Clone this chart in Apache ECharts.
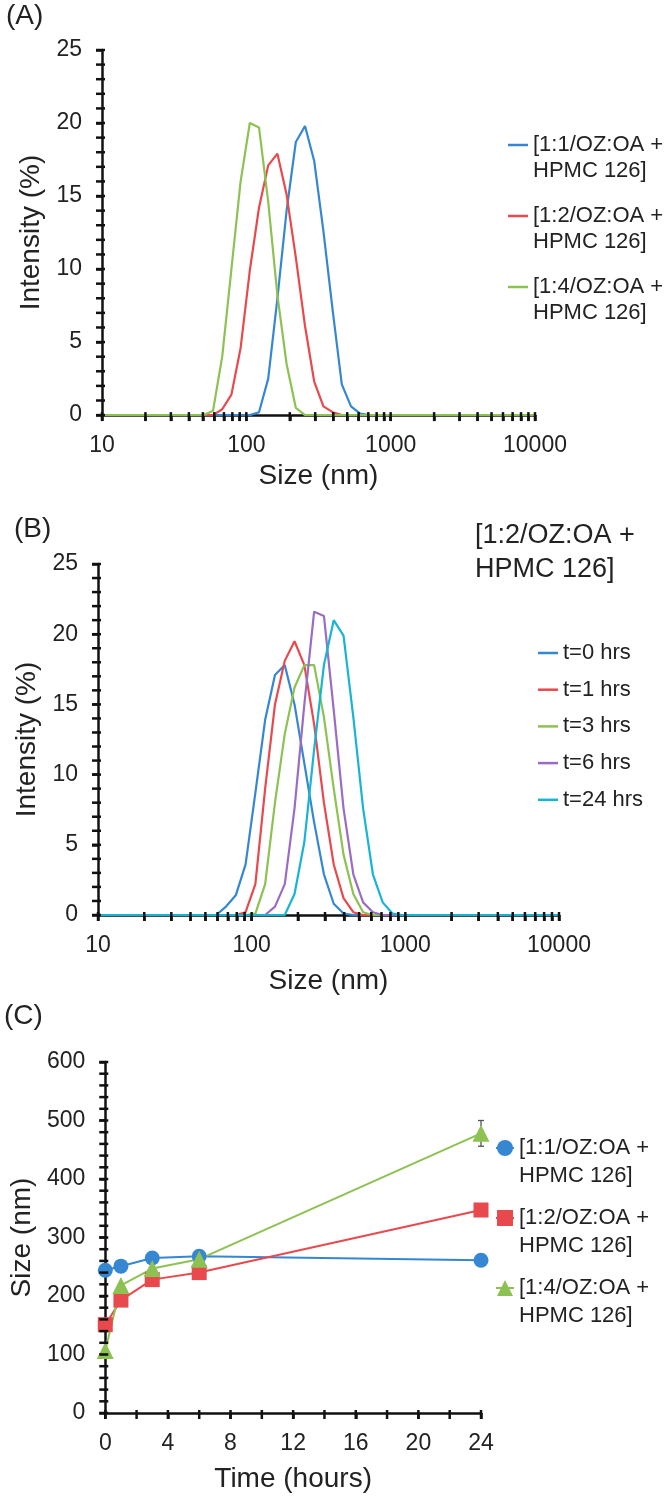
<!DOCTYPE html>
<html>
<head>
<meta charset="utf-8">
<script src="https://cdn.jsdelivr.net/npm/echarts@6.0.0/dist/echarts.min.js"></script>
<style>
  body { margin: 0; background: #fff; }
  .panel { position: absolute; left: 0; width: 670px; }
</style>
</head>
<body>
<div id="chartA" class="panel" style="top:0;height:495px"></div>
<div id="chartB" class="panel" style="top:495px;height:505px"></div>
<div id="chartC" class="panel" style="top:1000px;height:500px"></div>
<script>
var FONT = '"Liberation Sans", Arial, sans-serif'
var TXT = '#222'

// DLS size classes (nm)
var sizes = [10.10, 11.70, 13.54, 15.69, 18.17, 21.04, 24.36, 28.21, 32.67, 37.84, 43.82, 50.75,
  58.77, 68.06, 78.82, 91.28, 105.7, 122.4, 141.8, 164.2, 190.1, 220.2, 255.0, 295.3,
  342.0, 396.1, 458.7, 531.2, 615.1, 712.4, 825.0, 955.4, 1106, 1281, 1484, 1718,
  1990, 2305, 2669, 3091, 3580, 4145, 4801, 5560, 6439, 7456, 8635, 10000]
var sizeTicks = [10, 20, 30, 40, 50, 60, 70, 80, 90, 100, 200, 300, 400, 500, 600, 700, 800, 900,
  1000, 2000, 3000, 4000, 5000, 6000, 7000, 8000, 9000, 10000]
var sizeLabels = [10, 100, 1000, 10000]
var intensityTicks = [0, 1, 2, 3, 4, 5, 6, 7, 8, 9, 10, 11, 12, 13, 14, 15, 16, 17, 18, 19, 20, 21, 22, 23, 24, 25]
var timeTicks = [0, 2, 4, 6, 8, 10, 12, 14, 16, 18, 20, 22, 24]
var sizeNmTicks = [0, 20, 40, 60, 80, 100, 120, 140, 160, 180, 200, 220, 240, 260, 280, 300,
  320, 340, 360, 380, 400, 420, 440, 460, 480, 500, 520, 540, 560, 580, 600]

// (A) intensity (%) per formulation
var namesA = ['[1:1/OZ:OA +\nHPMC 126]', '[1:2/OZ:OA +\nHPMC 126]', '[1:4/OZ:OA +\nHPMC 126]']
var intA11 = [0, 0, 0, 0, 0, 0, 0, 0, 0, 0, 0, 0,
  0, 0, 0, 0, 0, 0.2, 2.5, 8.0, 14.0, 18.7, 19.8, 17.4,
  12.6, 7.2, 2.1, 0.6, 0.1, 0, 0, 0, 0, 0, 0, 0,
  0, 0, 0, 0, 0, 0, 0, 0, 0, 0, 0, 0]
var intA12 = [0, 0, 0, 0, 0, 0, 0, 0, 0, 0, 0, 0,
  0, 0.4, 1.4, 4.6, 9.9, 14.2, 17.1, 17.9, 15.1, 10.8, 6.1, 2.3,
  0.6, 0.2, 0, 0, 0, 0, 0, 0, 0, 0, 0, 0,
  0, 0, 0, 0, 0, 0, 0, 0, 0, 0, 0, 0]
var intA14 = [0, 0, 0, 0, 0, 0, 0, 0, 0, 0, 0, 0,
  0.3, 4.0, 10.0, 16.0, 20.0, 19.7, 14.6, 8.2, 3.5, 0.5, 0, 0,
  0, 0, 0, 0, 0, 0, 0, 0, 0, 0, 0, 0,
  0, 0, 0, 0, 0, 0, 0, 0, 0, 0, 0, 0]

// (B) 1:2 formulation over time
var namesB = ['t=0 hrs', 't=1 hrs', 't=3 hrs', 't=6 hrs', 't=24 hrs']
var intB0 = [0, 0, 0, 0, 0, 0, 0, 0, 0, 0, 0, 0,
  0, 0.6, 1.4, 3.6, 8.7, 13.9, 17.1, 17.8, 15.0, 10.8, 6.6, 2.9,
  0.8, 0.1, 0, 0, 0, 0, 0, 0, 0, 0, 0, 0,
  0, 0, 0, 0, 0, 0, 0, 0, 0, 0, 0, 0]
var intB1 = [0, 0, 0, 0, 0, 0, 0, 0, 0, 0, 0, 0,
  0, 0, 0, 0.2, 2.2, 9.0, 15.0, 18.1, 19.5, 17.8, 13.6, 8.0,
  3.6, 1.2, 0.2, 0, 0, 0, 0, 0, 0, 0, 0, 0,
  0, 0, 0, 0, 0, 0, 0, 0, 0, 0, 0, 0]
var intB3 = [0, 0, 0, 0, 0, 0, 0, 0, 0, 0, 0, 0,
  0, 0, 0, 0, 0.1, 2.2, 8.0, 12.9, 16.2, 17.8, 17.8, 14.1,
  9.0, 4.3, 1.5, 0.2, 0, 0, 0, 0, 0, 0, 0, 0,
  0, 0, 0, 0, 0, 0, 0, 0, 0, 0, 0, 0]
var intB6 = [0, 0, 0, 0, 0, 0, 0, 0, 0, 0, 0, 0,
  0, 0, 0, 0, 0, 0, 0.6, 2.2, 7.6, 15.0, 21.6, 21.3,
  14.6, 7.6, 2.9, 0.9, 0.2, 0, 0, 0, 0, 0, 0, 0,
  0, 0, 0, 0, 0, 0, 0, 0, 0, 0, 0, 0]
var intB24 = [0, 0, 0, 0, 0, 0, 0, 0, 0, 0, 0, 0,
  0, 0, 0, 0, 0, 0, 0, 0, 1.5, 5.2, 11.8, 17.8,
  21.0, 19.9, 14.1, 7.6, 2.9, 0.9, 0.1, 0, 0, 0, 0, 0,
  0, 0, 0, 0, 0, 0, 0, 0, 0, 0, 0, 0]

// (C) mean size vs time
var timeHours = [0, 1, 3, 6, 24]
var size11 = [244, 251, 265, 268, 261]
var size12 = [151, 193, 228, 240, 347]
var size14 = [107, 218, 247, 263, 478]
var err14 = [0, 0, 0, 0, 22]

var BLUE = '#3587d2', RED = '#e8494d', GREEN = '#8dc252', PURPLE = '#9a6dc2', CYAN = '#1ab4d3'
var AXIS = '#111'
var TICK_OUT = 6
var TICK_IN = 3

function curve(name, color, vals) {
  return {
    name: name, type: 'line', symbol: 'none', color: color,
    lineStyle: { width: 2.2, color: color },
    data: sizes.map(function (s, i) { return [s, vals[i]] })
  }
}

// cross-style tick marks placed through the axis scales
function tickMarks(dir, pairs) {
  return {
    type: 'custom', silent: true, z: 5, clip: false,
    renderItem: function (params, api) {
      var p = api.coord([api.value(0), api.value(1)])
      var shape = dir === 'x'
        ? { x1: p[0], y1: p[1] - TICK_IN, x2: p[0], y2: p[1] + TICK_OUT }
        : { x1: p[0] - TICK_OUT, y1: p[1], x2: p[0] + TICK_IN, y2: p[1] }
      return { type: 'line', shape: shape, style: { stroke: AXIS, lineWidth: 2.5 } }
    },
    data: pairs
  }
}

function axisBase(name, gap) {
  return {
    name: name,
    nameLocation: 'middle',
    nameGap: gap,
    nameTextStyle: { fontFamily: FONT, fontSize: 28, color: TXT },
    axisLine: { show: true, lineStyle: { color: AXIS, width: 2.5 } },
    axisTick: { show: true, length: TICK_OUT, lineStyle: { color: AXIS, width: 2.5 } },
    axisLabel: { show: true, fontFamily: FONT, fontSize: 23, color: TXT, margin: 19 },
    splitLine: { show: false }
  }
}

function logX(gap) {
  var ax = axisBase('Size (nm)', gap)
  ax.type = 'log'
  ax.logBase = 10
  ax.min = 10
  ax.max = 10000
  ax.axisTick.customValues = sizeTicks
  ax.axisLabel.customValues = sizeLabels
  ax.axisLabel.formatter = function (v) { return String(Math.round(v)) }
  return ax
}

function valY(name, gap, max, interval) {
  var ax = axisBase(name, gap)
  ax.type = 'value'
  ax.min = 0
  ax.max = max
  ax.interval = interval
  ax.axisLabel.margin = 20
  return ax
}

function panelLabel(text, left, top) {
  return {
    type: 'text', left: left, top: top,
    style: { text: text, fontFamily: FONT, fontSize: 28, fill: TXT }
  }
}

// two-line legend entries: a leading blank line keeps the first text line level with the icon
function firstLineOnIcon(name) { return '\n' + name }

var logXTicks = sizeTicks.map(function (v) { return [v, 0] })
var intensityYTicks = intensityTicks.map(function (v) { return [10, v] })

// ---- (A)
var chartA = echarts.init(document.getElementById('chartA'))
chartA.setOption({
  animation: false,
  grid: { left: 102, top: 50, width: 433, height: 371 },
  xAxis: logX(42),
  yAxis: valY('Intensity (%)', 52, 25, 5),
  legend: {
    orient: 'vertical', left: 508, top: 106, padding: 0,
    icon: 'rect', itemWidth: 20, itemHeight: 2.5, itemGap: -7,
    formatter: firstLineOnIcon,
    textStyle: { fontFamily: FONT, fontSize: 22, color: TXT, lineHeight: 26 },
    data: namesA
  },
  graphic: [panelLabel('(A)', 6, 2)],
  series: [
    curve(namesA[0], BLUE, intA11),
    curve(namesA[1], RED, intA12),
    curve(namesA[2], GREEN, intA14),
    tickMarks('x', logXTicks),
    tickMarks('y', intensityYTicks)
  ]
})

// ---- (B)
var chartB = echarts.init(document.getElementById('chartB'))
chartB.setOption({
  animation: false,
  grid: { left: 98, top: 69, width: 461, height: 358 },
  xAxis: logX(52),
  yAxis: valY('Intensity (%)', 53, 25, 5),
  legend: {
    orient: 'vertical', left: 538, top: 145, padding: 0,
    icon: 'rect', itemWidth: 20, itemHeight: 2.5, itemGap: 10.7,
    textStyle: { fontFamily: FONT, fontSize: 22, color: TXT, lineHeight: 26 },
    data: namesB
  },
  graphic: [
    panelLabel('(B)', 14, 20),
    {
      type: 'text', left: 475, top: 24,
      style: { text: '[1:2/OZ:OA +\nHPMC 126]', fontFamily: FONT, fontSize: 27, lineHeight: 34, fill: TXT }
    }
  ],
  series: [
    curve(namesB[0], BLUE, intB0),
    curve(namesB[1], RED, intB1),
    curve(namesB[2], GREEN, intB3),
    curve(namesB[3], PURPLE, intB6),
    curve(namesB[4], CYAN, intB24),
    tickMarks('x', logXTicks),
    tickMarks('y', intensityYTicks)
  ]
})

// ---- (C)
function point(name, color, symbol, symSize, vals) {
  return {
    name: name, type: 'line', color: color,
    symbol: symbol, symbolSize: symSize, showSymbol: true,
    lineStyle: { width: 2, color: color },
    itemStyle: { color: color },
    data: timeHours.map(function (t, i) { return [t, vals[i]] })
  }
}

var chartC = echarts.init(document.getElementById('chartC'))
var xC = axisBase('Time (hours)', 52)
xC.type = 'value'
xC.min = 0
xC.max = 24
xC.interval = 4
var yC = valY('Size (nm)', 66, 600, 100)

chartC.setOption({
  animation: false,
  grid: { left: 100, top: 62, width: 381, height: 351 },
  xAxis: xC,
  yAxis: yC,
  legend: {
    orient: 'vertical', left: 495, top: 106, padding: 0,
    itemWidth: 18, itemHeight: 20, itemGap: -14,
    formatter: firstLineOnIcon,
    textStyle: { fontFamily: FONT, fontSize: 22, color: TXT, lineHeight: 28 },
    data: namesA
  },
  graphic: [panelLabel('(C)', 4, 2)],
  series: [
    {
      type: 'custom', name: 'error', silent: true, z: 1,
      renderItem: function (params, api) {
        var lo = api.coord([api.value(0), api.value(1)])
        var hi = api.coord([api.value(0), api.value(2)])
        var st = { stroke: '#555', lineWidth: 1.3 }
        return {
          type: 'group', children: [
            { type: 'line', shape: { x1: lo[0], y1: lo[1], x2: hi[0], y2: hi[1] }, style: st },
            { type: 'line', shape: { x1: hi[0] - 3, y1: hi[1], x2: hi[0] + 3, y2: hi[1] }, style: st },
            { type: 'line', shape: { x1: lo[0] - 3, y1: lo[1], x2: lo[0] + 3, y2: lo[1] }, style: st }
          ]
        }
      },
      data: timeHours.map(function (t, i) { return [t, size14[i] - err14[i], size14[i] + err14[i]] })
        .filter(function (d) { return d[2] > d[1] })
    },
    point(namesA[0], BLUE, 'circle', 15, size11),
    point(namesA[1], RED, 'rect', 15, size12),
    point(namesA[2], GREEN, 'triangle', 17, size14),
    tickMarks('x', timeTicks.map(function (v) { return [v, 0] })),
    tickMarks('y', sizeNmTicks.map(function (v) { return [0, v] }))
  ]
})
</script>
</body>
</html>
